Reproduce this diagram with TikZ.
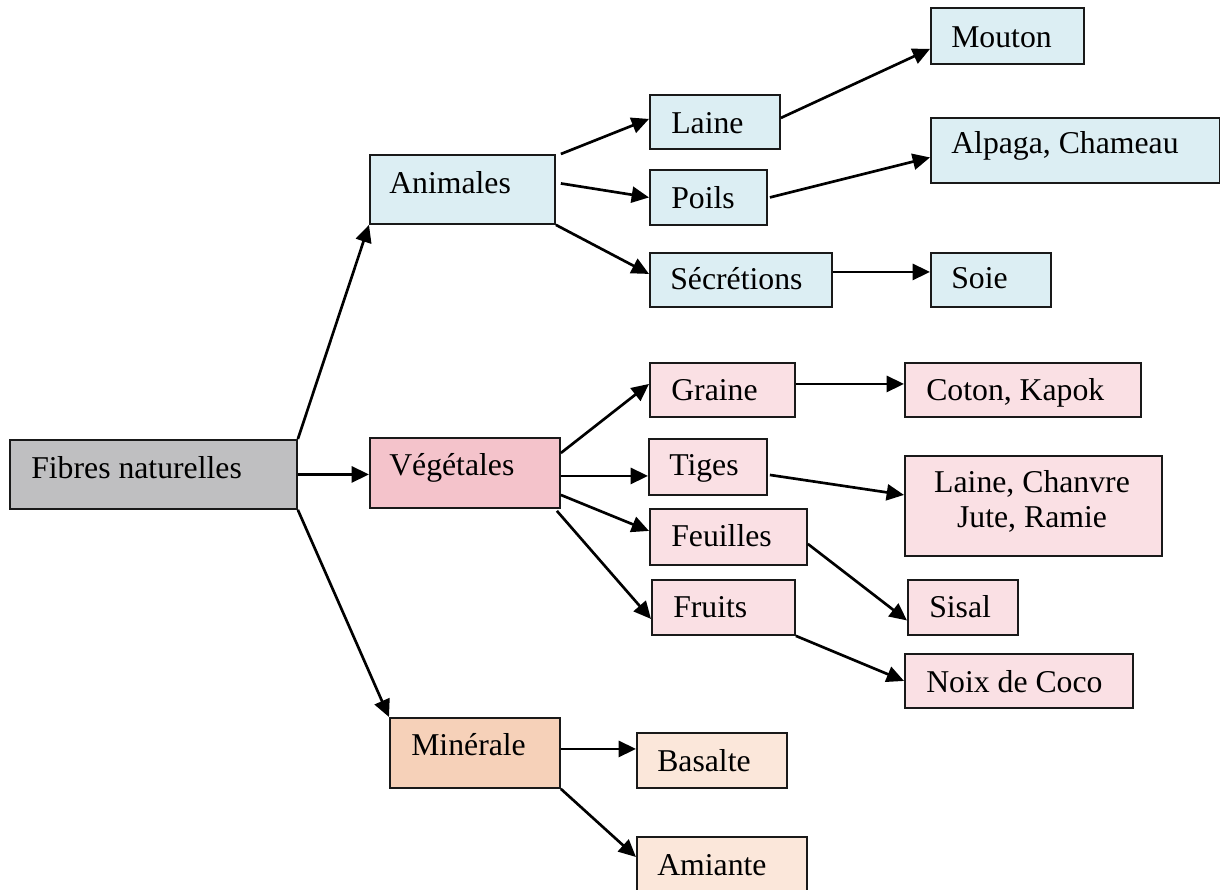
\documentclass[tikz,border=0pt]{standalone}
\usepackage{fontspec}
\setmainfont{Liberation Serif}
\usetikzlibrary{arrows.meta,calc}
\definecolor{cgray}{HTML}{BFBFC1}
\definecolor{cblue}{HTML}{DCEEF3}
\definecolor{cpinkd}{HTML}{F4C3CB}
\definecolor{cpinkl}{HTML}{FAE0E4}
\definecolor{corad}{HTML}{F6D1B9}
\definecolor{coral}{HTML}{FBE7DA}
\newcommand\mybox[6]{\node[fbox, fill=#6, anchor=north west,
  minimum width={(#4-#2)*0.75pt}, minimum height={(#5-#3)*0.75pt}] (#1) at (#2,#3) {};}
\begin{document}
\begin{tikzpicture}[x=0.75pt,y=-0.75pt,
  fbox/.style={draw=black!90, line width=1.4pt, inner sep=0pt, rectangle},
  txt/.style={anchor=base west, inner sep=0pt, font=\fontsize{23.8}{26.25}\selectfont},
  conn/.style={line width=2pt, -{Triangle[length=13pt,width=12pt]}}]
\clip (0,0) rectangle (1220,889);
\fill[white] (0,0) rectangle (1220,889);
% boxes
\mybox{fib}{9}{439}{296}{508}{cgray}
\mybox{anim}{369}{154}{554}{223}{cblue}
\mybox{veg}{369}{437}{559}{507}{cpinkd}
\mybox{min}{389}{717}{559}{787}{corad}
\mybox{laine}{649}{94}{779}{148}{cblue}
\mybox{poils}{649}{169}{766}{224}{cblue}
\mybox{secr}{649}{252}{831}{306}{cblue}
\mybox{mouton}{930}{7}{1083}{63}{cblue}
\mybox{alp}{930}{117}{1219}{182}{cblue}
\mybox{soie}{930}{252}{1050}{306}{cblue}
\mybox{graine}{649}{362}{794}{416}{cpinkl}
\mybox{tiges}{648}{438}{766}{494}{cpinkl}
\mybox{feu}{649}{508}{806}{564}{cpinkl}
\mybox{fruits}{651}{579}{794}{634}{cpinkl}
\mybox{coton}{904}{362}{1140}{416}{cpinkl}
\mybox{lc}{904}{455}{1161}{555}{cpinkl}
\mybox{sisal}{907}{579}{1017}{634}{cpinkl}
\mybox{noix}{904}{653}{1132}{707}{cpinkl}
\mybox{bas}{636}{732}{786}{787}{coral}
\mybox{ami}{636}{836}{806}{895}{coral}
% texts
\node[txt] (fib-t) at (31,478) {Fibres naturelles};
\node[txt] (anim-t) at (389,193) {Animales};
\node[txt] (veg-t) at (389,475) {Végétales};
\node[txt] (min-t) at (411,755) {Minérale};
\node[txt] (laine-t) at (671,133) {Laine};
\node[txt] (poils-t) at (671,208) {Poils};
\node[txt] (secr-t) at (670,289) {Sécrétions};
\node[txt] (mouton-t) at (951,47) {Mouton};
\node[txt] (alp-t) at (951,153) {Alpaga, Chameau};
\node[txt] (soie-t) at (951,288) {Soie};
\node[txt] (graine-t) at (671,400) {Graine};
\node[txt] (tiges-t) at (669,475) {Tiges};
\node[txt] (feu-t) at (671,546) {Feuilles};
\node[txt] (fruits-t) at (673,617) {Fruits};
\node[txt] (coton-t) at (926,400) {Coton, Kapok};
\node[txt, anchor=base, align=center] (lc-t) at (1032,527) {Laine, Chanvre\\Jute, Ramie};
\node[txt] (sisal-t) at (929,617) {Sisal};
\node[txt] (noix-t) at (926,692) {Noix de Coco};
\node[txt] (bas-t) at (657,771) {Basalte};
\node[txt] (ami-t) at (657,875) {Amiante};
% connectors
\draw[conn] (fib.north east) -- (anim.south west);
\draw[conn] (fib.east) -- (fib.east -| veg.west);
\draw[conn] (fib.south east) -- (min.north west);
\draw[conn] ($(anim.north east)+(5,0)$) -- ($(laine.west)+(0,-3)$);
\draw[conn] ($(anim.east)+(5,-6)$) -- (poils.west);
\draw[conn] (anim.south east) -- ($(secr.west)+(0,-6)$);
\draw[conn] ($(laine.east)+(0,-4)$) -- ($(mouton.west)+(0,13)$);
\draw[conn] ($(poils.east)+(2,0)$) -- ($(alp.west)+(0,7)$);
\draw[conn] ($(secr.east)+(0,-8)$) coordinate (s1) -- (s1 -| soie.west);
\draw[conn] ($(veg.north east)+(0,16)$) -- ($(graine.west)+(0,-6)$);
\draw[conn] ($(veg.east)+(0,3)$) coordinate (v1) -- (v1 -| tiges.west);
\draw[conn] ($(veg.east)+(0,22)$) -- ($(feu.west)+(0,-6)$);
\draw[conn] ($(veg.south east)+(-4,2)$) -- ($(fruits.west)+(0,11.5)$);
\draw[conn] ($(graine.east)+(0,-6)$) coordinate (g1) -- (g1 -| coton.west);
\draw[conn] ($(tiges.east)+(2,8)$) -- ($(lc.west)+(0,-11)$);
\draw[conn] ($(feu.east)+(0,7)$) -- ($(sisal.west)+(0,13)$);
\draw[conn] (fruits.south east) -- (noix.west);
\draw[conn] ($(min.east)+(0,-4)$) coordinate (m1) -- (m1 -| bas.west);
\draw[conn] (min.south east) -- ($(ami.north west)+(0,21)$);
\end{tikzpicture}
\end{document}
